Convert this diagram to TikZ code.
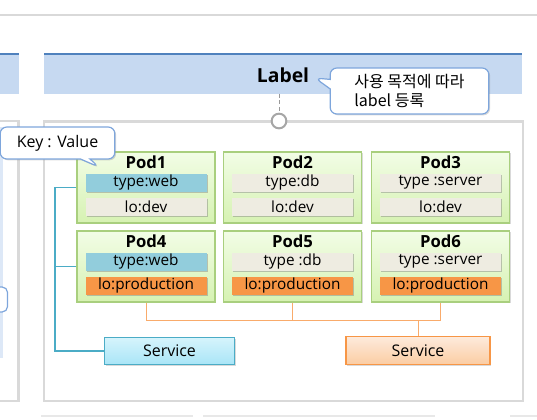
\documentclass[tikz,border=0pt]{standalone}
\usepackage{fontspec}
\setmainfont{Open Sans}
\newfontfamily\kr{Noto Sans CJK KR}
\usetikzlibrary{shapes.callouts,shadows}

\definecolor{bandFill}{HTML}{C6D9F1}
\definecolor{bandLine}{HTML}{4F81BD}
\definecolor{frameGray}{HTML}{D9D9D9}
\definecolor{calloutLine}{HTML}{7EA6DC}
\definecolor{podLine}{HTML}{A9CF7E}
\definecolor{podTop}{HTML}{F2FDE6}
\definecolor{podBot}{HTML}{D6F2B2}
\definecolor{webBar}{HTML}{92CDDC}
\definecolor{grayBar}{HTML}{EEECE1}
\definecolor{prodBar}{HTML}{F79646}
\definecolor{webLine}{HTML}{4BACC6}
\definecolor{webTop}{HTML}{D6F4FC}
\definecolor{webBot}{HTML}{A9E5F7}
\definecolor{prodTop}{HTML}{FDEADB}
\definecolor{prodBot}{HTML}{FBCDA4}

\def\rowA{187.5}
\def\rowB{266.5}

\begin{document}
\begin{tikzpicture}[x=0.75pt, y=-0.75pt,
    soft/.style={drop shadow={shadow xshift=1pt, shadow yshift=-1pt, opacity=0.3}},
    band/.style={fill=bandFill},
    frame/.style={draw=frameGray, line width=2.2pt},
    bubble/.style={rectangle callout, rounded corners=5pt, fill=white, draw=calloutLine,
        line width=0.9pt, soft},
    podbox/.style={draw=podLine, line width=0.9pt, top color=podTop, bottom color=podBot,
        minimum width=103.5pt, minimum height=53.25pt, inner sep=0pt, soft},
    podname/.style={font=\bfseries\fontsize{12.5}{14}\selectfont},
    bar/.style={minimum width=90.75pt, minimum height=13.5pt, inner sep=0pt,
        font=\fontsize{11.5}{13}\selectfont,
        drop shadow={shadow xshift=1pt, shadow yshift=-1pt, opacity=0.45}},
    svc/.style={line width=0.9pt, minimum height=20.5pt, inner sep=0pt,
        font=\fontsize{12}{14}\selectfont, soft},
    weblink/.style={draw=webLine, line width=0.9pt},
    prodlink/.style={draw=prodBar!80, line width=0.7pt}]

  \useasboundingbox (0,0) rectangle (537,419);

  % page background pieces
  \draw[frameGray, line width=1.2pt] (0,15) -- (537,15);
  \fill[band] (0,54) rectangle (18.5,93.5);
  \draw[bandLine, line width=1.5pt] (0,54) -- (18.5,54);
  \fill[band] (44,54) rectangle (522,93.5);
  \draw[bandLine, line width=1.5pt] (44,54) -- (522,54);

  % left (cut off) panel
  \draw[frame] (-10,121) rectangle (18.5,401);
  \fill[bandFill!60] (0,127) rectangle (3,358);
  \draw[fill=white, draw=calloutLine, line width=0.9pt, rounded corners=4pt] (-30,287) rectangle (7.5,312);

  % main panel
  \draw[frame] (44,121.5) rectangle (523,401);
  \foreach \a/\b in {41/193, 203/435, 510/545} {
      \draw[frameGray!60, line width=1.2pt] (\a,416) -- (\b,416);
  }

  % header
  \node[font=\bfseries\fontsize{14.5}{16}\selectfont] (title) at (283,75) {Label};
  \node[draw=black!35, line width=1.5pt, fill=white, circle, minimum size=11pt, inner sep=0pt] (hook) at (279,121) {};
  \coordinate (bandBottom) at (279,93.5);
  \draw[black!40, densely dashed, line width=0.5pt] (bandBottom) -- (hook.north);
  \node[bubble, minimum width=119pt, minimum height=34.5pt, align=left,
        font=\kr\fontsize{12}{14}\selectfont,
        callout absolute pointer={(315,78)}] (usage) at (409.5,91) {사용 목적에 따라\\label 등록};

  % pods
  \foreach \n/\cx/\cy/\ta/\ca/\tb/\cb in {
      1/146/\rowA/type:web/webBar/lo:dev/grayBar,
      2/292.5/\rowA/type:db/grayBar/lo:dev/grayBar,
      3/440.5/\rowA/type :server/grayBar/lo:dev/grayBar,
      4/146/\rowB/type:web/webBar/lo:production/prodBar,
      5/292.5/\rowB/type :db/grayBar/lo:production/prodBar,
      6/440.5/\rowB/type :server/grayBar/lo:production/prodBar} {
      \node[podbox] (pod\n) at (\cx,\cy) {};
      \node[podname] (name\n) at (\cx,\cy-25.5) {Pod\n};
      \node[bar, fill=\ca] (kind\n) at (\cx,\cy-5) {\ta};
      \node[bar, fill=\cb] (lo\n) at (\cx,\cy+19) {\tb};
  }

  \node[bubble, minimum width=86pt, minimum height=24pt,
        font=\fontsize{12}{14}\selectfont,
        callout absolute pointer={(99,167)}] (key) at (57.5,143) {Key : Value};

  % services
  \node[svc, draw=webLine, top color=webTop, bottom color=webBot, minimum width=98pt] (svcWeb) at (169.5,351) {Service};
  \node[svc, draw=prodBar, top color=prodTop, bottom color=prodBot, minimum width=108pt] (svcProd) at (418,350.5) {Service};

  % selectors
  \coordinate (webBus) at (55,189);
  \draw[weblink] (pod1.west) -- (pod1.west -| webBus) |- (svcWeb.west);
  \draw[weblink] (pod4.west) -- (pod4.west -| webBus);
  \coordinate (prodBus) at (0,320);
  \draw[prodlink] (pod4.south) |- (pod6.south |- prodBus) -- (pod6.south);
  \draw[prodlink] (pod5.south) -- (pod5.south |- prodBus);
  \draw[prodlink] (svcProd.north) -- (svcProd.north |- prodBus);
\end{tikzpicture}
\end{document}
